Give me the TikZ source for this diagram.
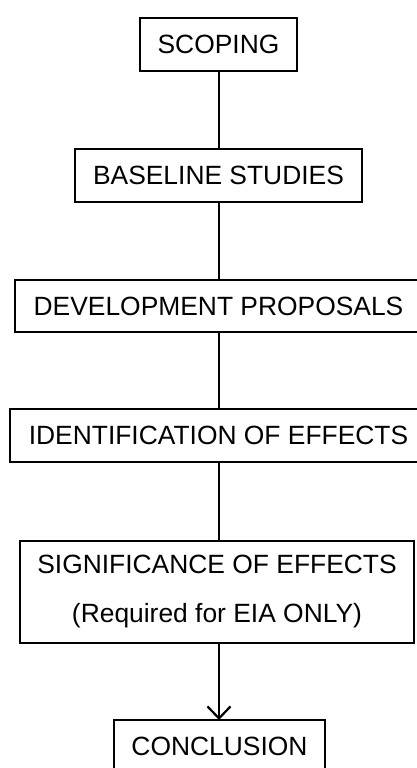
\documentclass[tikz,border=0pt]{standalone}
\usepackage{fontspec}
\setmainfont{Liberation Sans}
\usetikzlibrary{arrows.meta}
\begin{document}
\begin{tikzpicture}[x=0.5pt,y=-0.5pt,
  stage/.style={draw=black,line width=1.3pt,inner sep=0pt,outer sep=0pt,
    font=\fontsize{13.2}{24.5}\selectfont,align=center},
  link/.style={line width=1.1pt,draw=black}]
\useasboundingbox (0,0) rectangle (417,768);
\clip (0,0) rectangle (417,768);
\node[stage,minimum width=78.5pt,minimum height=26.5pt] (scope) at (218.5,44.5) {SCOPING};
\node[stage,minimum width=143.5pt,minimum height=26.5pt] (base) at (218.5,175.5) {BASELINE STUDIES};
\node[stage,minimum width=203.5pt,minimum height=26pt] (dev) at (218.5,306) {DEVELOPMENT PROPOSALS};
\node[stage,minimum width=208.5pt,minimum height=26.5pt] (ident) at (218.5,435.5) {IDENTIFICATION OF EFFECTS};
\node[stage,minimum width=197pt,minimum height=51pt] (sig) at (217,592) {SIGNIFICANCE OF EFFECTS\\(Required for EIA ONLY)};
\node[stage,minimum width=105.5pt,minimum height=26.5pt] (concl) at (219.5,746.5) {CONCLUSION};
\draw[link] (scope.south -| 219,0) -- (base.north -| 219,0);
\draw[link] (base.south -| 219,0) -- (dev.north -| 219,0);
\draw[link] (dev.south -| 219,0) -- (ident.north -| 219,0);
\draw[link] (ident.south -| 219,0) -- (sig.north -| 219,0);
\draw[link,-{Straight Barb[length=6pt,width=11.5pt,line width=1.1pt]}] (sig.south -| 219,0) -- (concl.north -| 219,0);
\end{tikzpicture}
\end{document}
